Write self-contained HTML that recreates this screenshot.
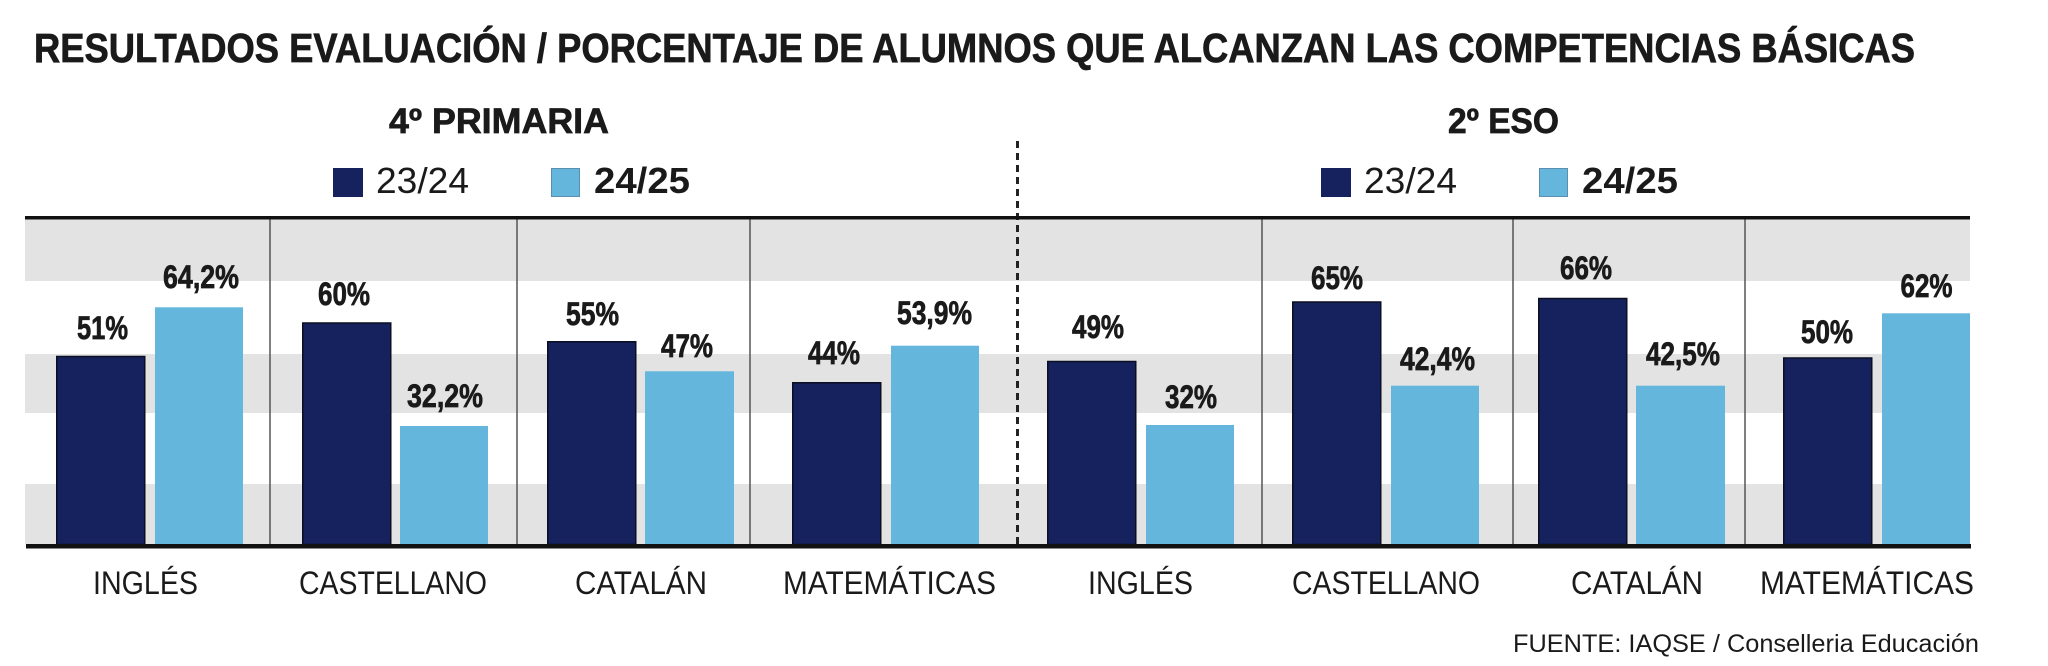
<!DOCTYPE html>
<html>
<head>
<meta charset="utf-8">
<style>
  html, body { margin: 0; padding: 0; background: #ffffff; }
  body { width: 2048px; height: 666px; overflow: hidden; }
  svg { display: block; }
  text { font-family: "Liberation Sans", "DejaVu Sans", sans-serif; fill: #1a1a1a; }
  .b { font-weight: bold; }
  .h { stroke: #1a1a1a; stroke-width: 0.7; }
</style>
</head>
<body>
<svg width="2048" height="666" viewBox="0 0 2048 666" xmlns="http://www.w3.org/2000/svg">
  <rect x="0" y="0" width="2048" height="666" fill="#ffffff"/>

  <!-- Title -->
  <text class="b h" x="34" y="62" font-size="41" textLength="1881" lengthAdjust="spacingAndGlyphs">RESULTADOS EVALUACIÓN / PORCENTAJE DE ALUMNOS QUE ALCANZAN LAS COMPETENCIAS BÁSICAS</text>

  <!-- Section headers -->
  <text class="b h" x="389" y="133" font-size="35" textLength="220" lengthAdjust="spacingAndGlyphs">4º PRIMARIA</text>
  <text class="b h" x="1448" y="133" font-size="35" textLength="111" lengthAdjust="spacingAndGlyphs">2º ESO</text>

  <!-- Legends -->
  <rect x="333" y="168" width="30" height="29" fill="#15225d"/>
  <text x="376" y="193" font-size="36" textLength="93" lengthAdjust="spacingAndGlyphs">23/24</text>
  <rect x="551.5" y="168.5" width="28" height="28" fill="#64b6dc" stroke="#5a8fb0" stroke-width="1"/>
  <text class="b" x="594" y="193" font-size="36" textLength="96" lengthAdjust="spacingAndGlyphs">24/25</text>

  <rect x="1321" y="168" width="30" height="29" fill="#15225d"/>
  <text x="1364" y="193" font-size="36" textLength="93" lengthAdjust="spacingAndGlyphs">23/24</text>
  <rect x="1539.5" y="168.5" width="28" height="28" fill="#64b6dc" stroke="#5a8fb0" stroke-width="1"/>
  <text class="b" x="1582" y="193" font-size="36" textLength="96" lengthAdjust="spacingAndGlyphs">24/25</text>

  <!-- Gray bands -->
  <rect x="25" y="219" width="1945" height="62" fill="#e3e3e3"/>
  <rect x="25" y="354" width="1945" height="59" fill="#e3e3e3"/>
  <rect x="25" y="484" width="1945" height="60" fill="#e3e3e3"/>

  <!-- Category separators -->
  <g stroke="#555555" stroke-width="1.5">
    <line x1="270" y1="219" x2="270" y2="544"/>
    <line x1="517" y1="219" x2="517" y2="544"/>
    <line x1="750" y1="219" x2="750" y2="544"/>
    <line x1="1262" y1="219" x2="1262" y2="544"/>
    <line x1="1513" y1="219" x2="1513" y2="544"/>
    <line x1="1745" y1="219" x2="1745" y2="544"/>
  </g>

  <!-- Dashed divider -->
  <line x1="1017.5" y1="141" x2="1017.5" y2="544" stroke="#222222" stroke-width="3" stroke-dasharray="7 5"/>

  <!-- Dark bars (23/24) -->
  <g fill="#15225d" stroke="#0b0f22" stroke-width="1.5">
    <rect x="56.75" y="356.5" width="88" height="188"/>
    <rect x="302.75" y="323" width="88" height="221.5"/>
    <rect x="547.75" y="341.75" width="88" height="202.75"/>
    <rect x="792.75" y="382.75" width="88" height="161.75"/>
    <rect x="1047.75" y="361.5" width="88" height="183"/>
    <rect x="1292.75" y="302" width="88" height="242.5"/>
    <rect x="1538.75" y="298.5" width="88" height="246"/>
    <rect x="1783.75" y="358" width="88" height="186.5"/>
  </g>

  <!-- Light bars (24/25) -->
  <g fill="#64b6dc">
    <rect x="155" y="307.3" width="88" height="236.7"/>
    <rect x="400" y="426" width="88" height="118"/>
    <rect x="645" y="371.3" width="89" height="172.7"/>
    <rect x="891" y="345.7" width="88" height="198.3"/>
    <rect x="1146" y="425" width="88" height="119"/>
    <rect x="1391" y="385.7" width="88" height="158.3"/>
    <rect x="1636" y="385.7" width="89" height="158.3"/>
    <rect x="1882" y="313.3" width="88" height="230.7"/>
  </g>

  <!-- Top and bottom axis lines -->
  <rect x="25" y="216" width="1945" height="3.5" fill="#111111"/>
  <rect x="26" y="544" width="1945" height="4.5" fill="#111111"/>

  <!-- Value labels -->
  <g font-size="32" text-anchor="middle">
    <text class="b h" x="102.5" y="339" textLength="51" lengthAdjust="spacingAndGlyphs">51%</text>
    <text class="b h" x="201" y="288" textLength="76" lengthAdjust="spacingAndGlyphs">64,2%</text>
    <text class="b h" x="344" y="305" textLength="52" lengthAdjust="spacingAndGlyphs">60%</text>
    <text class="b h" x="445" y="407" textLength="76" lengthAdjust="spacingAndGlyphs">32,2%</text>
    <text class="b h" x="592.5" y="325" textLength="53" lengthAdjust="spacingAndGlyphs">55%</text>
    <text class="b h" x="687" y="357" textLength="52" lengthAdjust="spacingAndGlyphs">47%</text>
    <text class="b h" x="834" y="364" textLength="52" lengthAdjust="spacingAndGlyphs">44%</text>
    <text class="b h" x="934.5" y="324" textLength="75" lengthAdjust="spacingAndGlyphs">53,9%</text>
    <text class="b h" x="1098" y="338" textLength="52" lengthAdjust="spacingAndGlyphs">49%</text>
    <text class="b h" x="1191" y="408" textLength="52" lengthAdjust="spacingAndGlyphs">32%</text>
    <text class="b h" x="1337" y="289" textLength="52" lengthAdjust="spacingAndGlyphs">65%</text>
    <text class="b h" x="1437.5" y="370" textLength="75" lengthAdjust="spacingAndGlyphs">42,4%</text>
    <text class="b h" x="1586" y="279" textLength="52" lengthAdjust="spacingAndGlyphs">66%</text>
    <text class="b h" x="1683" y="365" textLength="74" lengthAdjust="spacingAndGlyphs">42,5%</text>
    <text class="b h" x="1827" y="343" textLength="52" lengthAdjust="spacingAndGlyphs">50%</text>
    <text class="b h" x="1926.5" y="297" textLength="52" lengthAdjust="spacingAndGlyphs">62%</text>
  </g>

  <!-- Category labels -->
  <g font-size="32" text-anchor="middle">
    <text x="145.5" y="594" textLength="105" lengthAdjust="spacingAndGlyphs">INGLÉS</text>
    <text x="393" y="594" textLength="188" lengthAdjust="spacingAndGlyphs">CASTELLANO</text>
    <text x="641" y="594" textLength="132" lengthAdjust="spacingAndGlyphs">CATALÁN</text>
    <text x="889.5" y="594" textLength="213" lengthAdjust="spacingAndGlyphs">MATEMÁTICAS</text>
    <text x="1140.5" y="594" textLength="105" lengthAdjust="spacingAndGlyphs">INGLÉS</text>
    <text x="1386" y="594" textLength="188" lengthAdjust="spacingAndGlyphs">CASTELLANO</text>
    <text x="1637" y="594" textLength="132" lengthAdjust="spacingAndGlyphs">CATALÁN</text>
    <text x="1867" y="594" textLength="214" lengthAdjust="spacingAndGlyphs">MATEMÁTICAS</text>
  </g>

  <!-- Source -->
  <text x="1513" y="652" font-size="25" textLength="466" lengthAdjust="spacingAndGlyphs">FUENTE: IAQSE / Conselleria Educación</text>
</svg>
</body>
</html>
